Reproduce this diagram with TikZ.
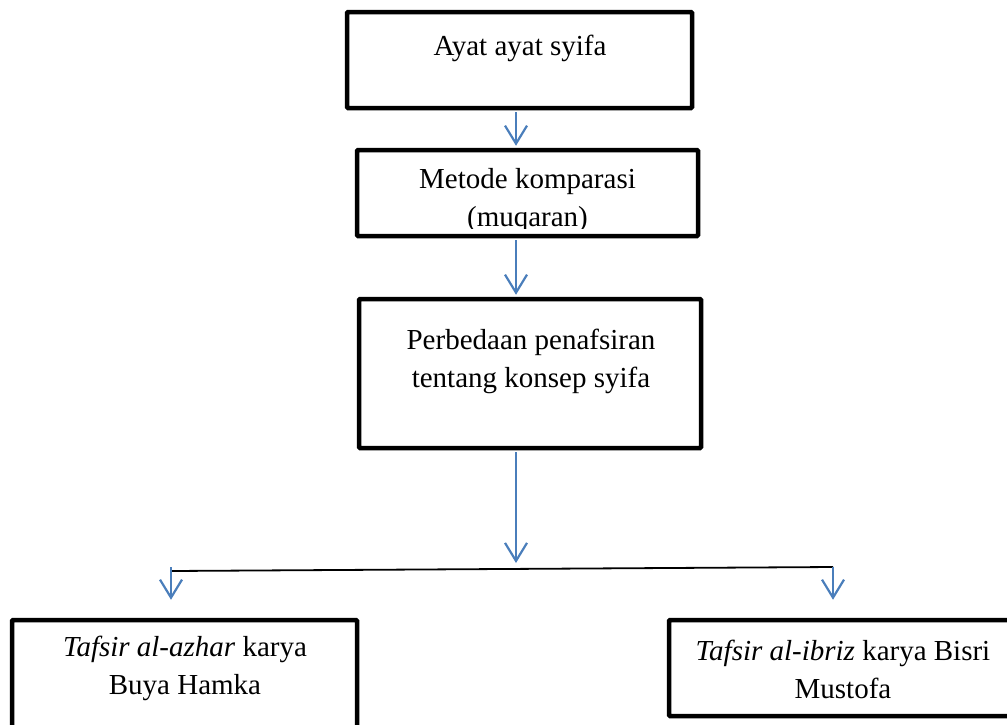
\documentclass[tikz,border=0pt]{standalone}
\usepackage{fontspec}
\setmainfont{Liberation Serif}
\usetikzlibrary{arrows.meta}
\definecolor{arrblue}{HTML}{4A7EBB}
\begin{document}
\begin{tikzpicture}[x=1pt,y=-1pt,
  box/.style={draw=black,line width=4.5pt,fill=white,inner sep=0pt,rounded corners=1pt},
  txt/.style={font=\fontsize{29}{38}\selectfont,align=center,inner sep=0pt,anchor=base},
  arr/.style={draw=arrblue,line width=2.2pt,-{Straight Barb[length=18pt,width=22pt,line width=2.2pt]}}]
\useasboundingbox (0,0) rectangle (1007,724);
% boxes
\node[box,minimum width=345pt,minimum height=96pt] (b1) at (519.5,60) {};
\node[box,minimum width=341pt,minimum height=86pt] (b2) at (527.5,193) {};
\node[box,minimum width=342pt,minimum height=149pt] (b3) at (530,373.5) {};
\node[box,minimum width=345pt,minimum height=140pt] (bl) at (184.5,690) {};
\node[box,minimum width=371pt,minimum height=96pt] (br) at (854.5,668) {};
% texts (base anchor = last line)
\node[txt] (t1) at (520,55) {Ayat ayat syifa};
\begin{scope}
  \clip (357,150) rectangle (698,228);
  \node[txt] (t2) at (527.5,226) {Metode komparasi\\(muqaran)};
\end{scope}
\node[txt] (t3) at (531,387) {Perbedaan penafsiran\\tentang konsep syifa};
\node[txt] (t4) at (185,694) {\textit{Tafsir al-azhar} karya\\Buya Hamka};
\node[txt] (t5) at (843,698) {\textit{Tafsir al-ibriz} karya Bisri\\Mustofa};
% connector points
\coordinate (cx) at (516,0);
\coordinate (jl) at (171,571);
\coordinate (jr) at (833,567);
\coordinate (jm) at (516,563);
\coordinate (sl) at (171,567);
% connectors
\draw[arr,shorten <=2pt,shorten >=2pt] (b1.south -| cx) -- (b2.north -| cx);
\draw[arr,shorten <=2pt,shorten >=2pt] (b2.south -| cx) -- (b3.north -| cx);
\draw[arr,shorten <=2pt] (b3.south -| cx) -- (jm);
\draw[line width=1.8pt] (jl) -- (jr);
\draw[arr,shorten >=18pt] (sl) -- (bl.north -| sl);
\draw[arr,shorten >=18pt] (jr) -- (br.north -| jr);
\end{tikzpicture}
\end{document}
